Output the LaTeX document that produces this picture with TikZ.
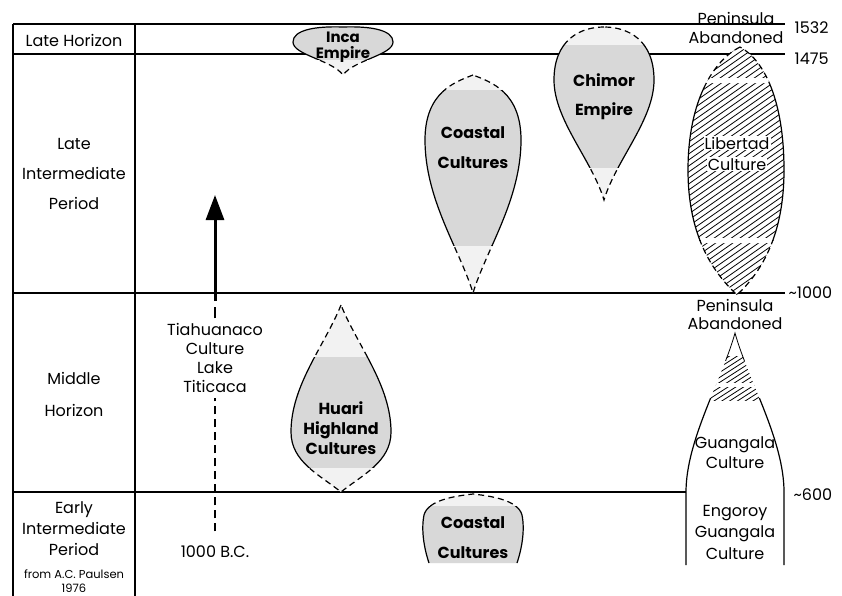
\documentclass[tikz,border=0pt]{standalone}
\usepackage{fontspec}
\setmainfont{Poppins}
\usetikzlibrary{arrows.meta, positioning}
\definecolor{cblob}{HTML}{D8D8D8}
\definecolor{cpale}{HTML}{F2F2F2}
\tikzset{
  every picture/.style={line width=1.2pt},
  rule/.style={draw=black, line width=1.3pt},
  period/.style={font=\fontsize{16}{#1}\selectfont, align=center, inner sep=0pt},
  period/.default=18,
  culture/.style={font=\bfseries\fontsize{16}{#1}\selectfont, align=center, inner sep=0pt},
  culture/.default=20,
  blobline/.style={draw=black, line width=1.2pt},
  blobbroken/.style={blobline, dash pattern=on 6pt off 4pt},
  hatch/.style={line width=0.8pt},
  trail/.style={line width=2.6pt, dash pattern=on 8pt off 5pt},
  shaft/.style={line width=3pt},
}
% outlines of the culture blobs (picture units: x=1pt, y=-1pt)
\newcommand{\incapath}{(343,27) .. controls (315,26) and (293,30) .. (293,42) .. controls (293,55) and (332,60) .. (343,75) .. controls (354,60) and (393,55) .. (393,42) .. controls (393,30) and (371,26) .. cycle}
\newcommand{\coastalpath}{(473,75) .. controls (455,82) and (425,92) .. (425,140) .. controls (425,200) and (460,250) .. (473,293) .. controls (486,250) and (521,200) .. (521,140) .. controls (521,92) and (491,82) .. cycle}
\newcommand{\chimorpath}{(604,27) .. controls (580,27) and (554,40) .. (554,80) .. controls (554,120) and (592,160) .. (604,200) .. controls (616,160) and (654,120) .. (654,80) .. controls (654,40) and (628,27) .. cycle}
\newcommand{\libertadpath}{(740,47) .. controls (714,60) and (688,100) .. (688,170) .. controls (688,240) and (716,275) .. (737,295) .. controls (758,275) and (784,240) .. (784,170) .. controls (784,100) and (764,60) .. cycle}
\newcommand{\huaripath}{(341,305) .. controls (325,345) and (291,385) .. (291,432) .. controls (291,462) and (320,475) .. (341,492) .. controls (362,475) and (391,462) .. (391,432) .. controls (391,385) and (357,345) .. cycle}
\newcommand{\coastallowpath}{(429,563) .. controls (424,548) and (421,530) .. (424,515) .. controls (428,500) and (455,496) .. (473,494) .. controls (491,496) and (518,500) .. (522,515) .. controls (525,530) and (522,548) .. (517,563)}
\newcommand{\guangalapath}{(686,565) -- (686,492) .. controls (686,440) and (722,380) .. (735,333) .. controls (748,380) and (784,440) .. (784,492) -- (784,565)}
% blob: pale fill, grey and solid between y=#2 and y=#3, broken outside
\newcommand{\drawblob}[3]{%
  \fill[cpale] #1;
  \begin{scope}
    \clip (0,#2) rectangle (842,#3);
    \fill[cblob] #1;
    \draw[blobline] #1;
  \end{scope}
  \begin{scope}
    \clip (0,-10) rectangle (842,#2) (0,#3) rectangle (842,610);
    \draw[blobbroken] #1;
  \end{scope}}

\begin{document}
\begin{tikzpicture}[x=1pt, y=-1pt]
  \useasboundingbox (0,0) rectangle (842,595);

  % period table
  \draw[rule] (13,24) -- (785,24) node[right, xshift=9pt, yshift=-4pt, period] (y1532) {1532};
  \draw[rule] (13,54) -- (785,54) node[right, xshift=9pt, yshift=-5pt, period] (y1475) {1475};
  \draw[rule] (13,293) -- (785,293) node[right, xshift=3pt, period] (y1000) {\textasciitilde 1000};
  \draw[rule] (13,492) -- (686,492);
  \draw[rule] (13,24) -- (13,610);
  \draw[rule] (135,24) -- (135,610);
  \node[period, anchor=west] (y600) at (793,495) {\textasciitilde 600};

  \node[period] (latehor) at (74,40) {Late Horizon};
  \node[period=30] (lateint) at (74,174) {Late\\Intermediate\\Period};
  \node[period=32] (midhor) at (74,394) {Middle\\Horizon};
  \node[period=21] (earlyint) at (74,529) {Early\\Intermediate\\Period};
  \node[font=\fontsize{11.5}{14}\selectfont, align=center, inner sep=0pt] (credit) at (74,581) {from A.C. Paulsen\\1976};

  % culture blobs
  \drawblob{\incapath}{20}{59}
  \drawblob{\coastalpath}{90}{245}
  \drawblob{\chimorpath}{45}{167}
  \drawblob{\huaripath}{357}{467}
  \drawblob{\coastallowpath}{506}{610}

  % Libertad, hatched
  \begin{scope}
    \clip \libertadpath;
    \fill[white] (680,40) rectangle (790,300);
    \foreach \k in {0,6,...,336}
      \draw[hatch] (680,40+\k) -- (790,-37+\k);
    \fill[white] (680,78) rectangle (790,83) (680,238) rectangle (790,243);
  \end{scope}
  \begin{scope}
    \clip (0,83) rectangle (842,240);
    \draw[blobline] \libertadpath;
  \end{scope}
  \begin{scope}
    \clip (0,0) rectangle (842,83) (0,240) rectangle (842,300);
    \draw[blobbroken] \libertadpath;
  \end{scope}

  % Guangala, hatched tip
  \begin{scope}
    \clip \guangalapath;
    \clip (680,356) rectangle (790,400);
    \foreach \k in {0,5,...,110}
      \draw[hatch] (700,345+\k) -- (770,300+\k);
    \fill[white] (680,383) rectangle (790,387);
  \end{scope}
  \begin{scope}
    \clip (0,398) rectangle (842,565);
    \draw[blobline] \guangalapath;
  \end{scope}
  \begin{scope}
    \clip (0,320) rectangle (842,360);
    \draw[line width=0.8pt] \guangalapath;
  \end{scope}

  % culture names
  \node[culture, font=\bfseries\fontsize{15}{16}\selectfont] (inca) at (343,47) {Inca\\Empire};
  \node[culture=30] (coastal) at (473,148) {Coastal\\Cultures};
  \node[culture=29] (chimor) at (604,97) {Chimor\\Empire};
  \node[culture=20] (huari) at (341,428) {Huari\\Highland\\Cultures};
  \node[culture=30] (coastallow) at (473,538) {Coastal\\Cultures};
  \node[period, fill=white, inner sep=1pt] (libertad) at (737,143) {Libertad};
  \node[period, fill=white, inner sep=1pt, below=6pt of libertad] (libculture) {Culture};
  \node[period=19] (abandA) at (736,28) {Peninsula\\Abandoned};
  \node[period=18] (abandB) at (735,314) {Peninsula\\Abandoned};
  \node[period=20] (guangala) at (735,453) {Guangala\\Culture};
  \node[period=21.5] (engoroy) at (735,532) {Engoroy\\Guangala\\Culture};

  % Tiahuanaco influence
  \coordinate (tiptop) at (215,195);
  \coordinate (shaftfoot) at (215,301);
  \coordinate (dashtop) at (215,307);
  \node[period=19.3] (tiahuanaco) at (215,358) {Tiahuanaco\\Culture\\Lake\\Titicaca};
  \node[period] (bc) at (215,552) {1000 B.C.};
  \draw[trail, shorten <=14pt, shorten >=4pt] (bc.north) -- (tiahuanaco.south);
  \draw[shaft, line width=2.6pt, shorten <=4pt] (tiahuanaco.north) -- (dashtop);
  \draw[shaft, -{Triangle[length=25pt, width=18pt]}] (shaftfoot) -- (tiptop);
\end{tikzpicture}
\end{document}
